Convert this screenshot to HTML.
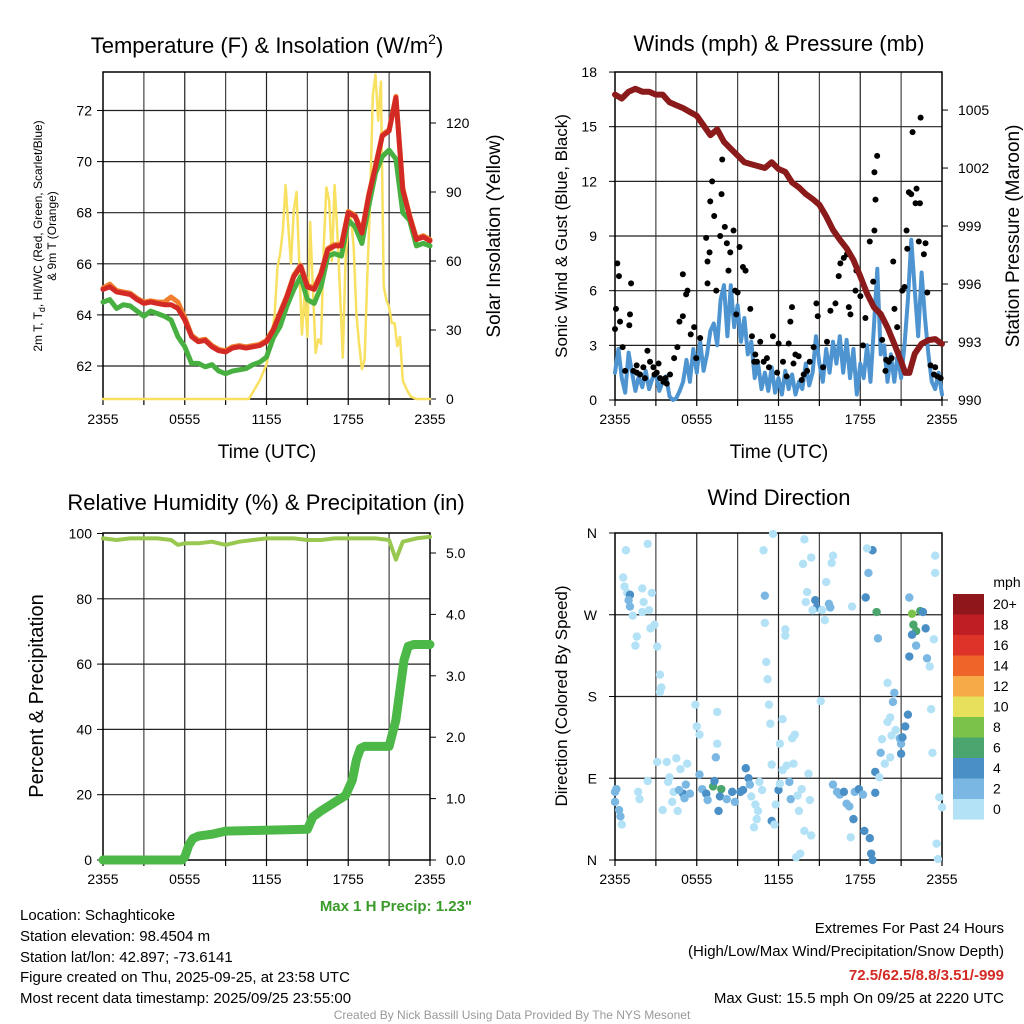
<!DOCTYPE html>
<html><head><meta charset="utf-8"><style>
body{margin:0;background:#fff;}
svg{display:block;font-family:"Liberation Sans",sans-serif;}
</style></head><body>
<svg id="c" width="1024" height="1024" viewBox="0 0 1024 1024">
<rect width="1024" height="1024" fill="#fff"/>
<g id="static">
<text x="267" y="53" font-size="22" text-anchor="middle">Temperature (F) &amp; Insolation (W/m<tspan font-size="14" dy="-9">2</tspan><tspan dy="9">)</tspan></text>
<text x="779" y="51" font-size="22" text-anchor="middle">Winds (mph) &amp; Pressure (mb)</text>
<text x="266" y="510" font-size="22" text-anchor="middle">Relative Humidity (%) &amp; Precipitation (in)</text>
<text x="779" y="505" font-size="22" text-anchor="middle">Wind Direction</text>
<text x="267" y="458" font-size="19" text-anchor="middle">Time (UTC)</text>
<text x="779" y="458" font-size="19" text-anchor="middle">Time (UTC)</text>
<text transform="translate(42,236) rotate(-90)" font-size="12" text-anchor="middle">2m T, T<tspan font-size="9" dy="3">d</tspan><tspan dy="-3">, HI/WC (Red, Green, Scarlet/Blue)</tspan></text>
<text transform="translate(56,236) rotate(-90)" font-size="12" text-anchor="middle">&amp; 9m T (Orange)</text>
<text transform="translate(500,236) rotate(-90)" font-size="19" text-anchor="middle">Solar Insolation (Yellow)</text>
<text transform="translate(567,236) rotate(-90)" font-size="17" text-anchor="middle">Sonic Wind &amp; Gust (Blue, Black)</text>
<text transform="translate(1019,236) rotate(-90)" font-size="19" text-anchor="middle">Station Pressure (Maroon)</text>
<text transform="translate(43,696) rotate(-90)" font-size="20" text-anchor="middle">Percent &amp; Precipitation</text>
<text transform="translate(567,696) rotate(-90)" font-size="17" text-anchor="middle">Direction (Colored By Speed)</text>
<text x="472" y="911" font-size="15" font-weight="bold" fill="#3a9a2a" text-anchor="end">Max 1 H Precip: 1.23"</text>
<g font-size="15">
<text x="20" y="920">Location: Schaghticoke</text>
<text x="20" y="941">Station elevation: 98.4504 m</text>
<text x="20" y="962">Station lat/lon: 42.897; -73.6141</text>
<text x="20" y="982">Figure created on Thu, 2025-09-25, at 23:58 UTC</text>
<text x="20" y="1003">Most recent data timestamp: 2025/09/25 23:55:00</text>
</g>
<g font-size="15" text-anchor="end">
<text x="1004" y="933">Extremes For Past 24 Hours</text>
<text x="1004" y="956">(High/Low/Max Wind/Precipitation/Snow Depth)</text>
<text x="1004" y="980" font-weight="bold" fill="#d42a25">72.5/62.5/8.8/3.51/-999</text>
<text x="1004" y="1003">Max Gust: 15.5 mph On 09/25 at 2220 UTC</text>
</g>
<text x="512" y="1019" font-size="12" fill="#999" text-anchor="middle">Created By Nick Bassill Using Data Provided By The NYS Mesonet</text>
<text x="1007" y="587" font-size="14" text-anchor="middle">mph</text>
</g>
</svg>
<script>
// ---------- data ----------
const xTickLabels=["2355","0555","1155","1755","2355"];
const tempTicks=[62,64,66,68,70,72];
const solarTicks=[0,30,60,90,120];
const windTicks=[0,3,6,9,12,15,18];
const presTicks=[990,993,996,999,1002,1005];
const rhTicks=[0,20,40,60,80,100];
const prTicks=["0.0","1.0","2.0","3.0","4.0","5.0"];
const dirTickLabels=["N","E","S","W","N"];
const speedLabels=["0","2","4","6","8","10","12","14","16","18","20+"];
const speedColors=["#b3e2f7","#7ab8e3","#4a8fc6","#4aa56e","#7bc24a","#e6e05a","#f6aa48","#ef6429","#dd3328","#be1e24","#8f161a"];

const tempRed=[65.0,65.1,64.9,64.85,64.8,64.6,64.45,64.5,64.45,64.4,64.4,64.25,63.8,63.15,62.95,63.0,62.75,62.6,62.55,62.7,62.75,62.7,62.75,62.8,62.95,63.4,64.05,64.7,65.5,65.9,65.1,65.0,65.6,66.55,66.7,66.7,68.0,67.85,67.2,68.65,69.8,71.0,71.2,72.5,68.9,67.85,66.95,67.05,66.9];
const tempOrange=[65.05,65.2,64.95,64.9,64.85,64.65,64.5,64.55,64.5,64.5,64.7,64.5,63.9,63.2,63.0,63.05,62.8,62.65,62.6,62.75,62.8,62.75,62.8,62.85,63.0,63.45,64.1,64.75,65.55,65.95,65.15,65.05,65.65,66.6,66.75,66.75,68.05,67.9,67.25,68.7,69.85,71.05,71.25,72.55,68.95,67.9,67.0,67.1,66.95];
const tempGreen=[64.5,64.6,64.25,64.4,64.35,64.15,63.95,64.15,64.05,63.95,63.8,63.15,62.75,62.1,62.1,61.97,62.05,61.8,61.7,61.8,61.85,61.9,62.05,62.15,62.35,63.1,63.55,64.35,65.0,65.5,64.6,64.45,65.1,66.3,66.4,66.3,67.7,67.45,66.8,68.25,69.55,70.2,70.45,70.1,68.0,67.7,66.7,66.8,66.7];
const solarTimes=[0,10.7,11,11.5,12,12.3,12.6,12.8,13,13.2,13.4,13.6,13.8,14,14.2,14.4,14.6,14.8,15,15.2,15.4,15.6,15.8,16,16.2,16.4,16.6,16.8,17,17.2,17.4,17.6,17.8,18,18.2,18.4,18.6,18.8,19,19.2,19.4,19.6,19.8,20,20.2,20.4,20.6,20.8,21,21.2,21.4,21.6,21.8,22,22.3,22.6,23,24];
const solarVals=[0,0,3,8,15,24,37,57,63,73,93,75,59,82,90,60,28,46,27,77,49,20,26,24,66,92,86,60,93,72,46,18,60,77,79,66,37,24,13,17,53,86,132,141,121,138,49,43,40,33,33,23,27,8,4,1,0,0];

const windSpeed=[1.5,2.8,1.2,0.4,2.6,1.5,0.5,1.3,0.7,1.6,0.6,1.2,1.5,0.5,1.0,1.3,0.2,0.0,0.1,0.5,1.0,2.2,1.0,2.8,1.5,3.2,1.6,2.5,3.8,4.2,3.0,5.5,6.3,3.5,6.3,4.0,5.2,3.2,4.5,2.5,3.2,1.2,2.0,0.6,1.5,0.5,1.8,0.4,1.2,0.3,1.6,0.6,1.4,0.3,1.0,0.6,2.0,0.8,1.5,3.5,2.0,1.0,2.8,1.5,3.2,2.0,3.5,1.5,3.3,1.2,2.8,0.3,2.0,1.2,3.0,1.0,4.0,7.2,2.5,3.0,1.0,2.5,1.0,2.5,1.2,3.0,5.5,8.8,6.0,3.5,7.0,4.5,2.5,1.0,0.6,1.5,0.3];
const gustTimes=[0.0,0.07,0.17,0.29,0.37,0.56,0.74,1.10,1.05,1.18,1.35,1.59,1.84,2.08,2.38,2.57,2.82,3.06,3.31,3.55,3.80,4.04,4.34,4.58,4.73,4.98,4.98,5.22,5.32,5.56,5.81,5.96,6.25,6.69,6.79,6.79,6.94,6.99,7.13,7.28,7.43,7.72,7.82,7.87,8.06,8.21,8.33,8.46,8.70,8.82,8.90,9.00,9.14,9.39,9.58,9.93,10.05,10.22,10.42,10.66,10.91,11.15,11.59,12.01,12.33,12.75,12.87,12.99,13.24,13.48,13.85,14.29,14.58,14.78,14.88,15.27,15.56,15.81,16.18,16.42,16.54,16.79,17.03,17.16,17.28,17.65,17.72,18.01,18.38,18.70,18.95,19.04,19.12,19.04,19.24,19.49,19.61,19.85,20.10,20.42,20.51,20.71,21.08,21.25,21.40,21.45,21.57,21.74,21.84,22.06,22.13,22.30,22.38,22.43,22.67,22.79,22.92,23.16,23.41,23.65,23.90,1.6,2.2,2.9,3.2,3.7,10.3,11.3,11.9,12.6,13.1,13.7,14.1,18.2,19.9,20.3,23.5];
const gustVals=[3.9,5.0,7.5,6.8,4.3,2.9,1.6,4.7,4.1,6.4,1.6,1.9,1.4,1.8,2.7,2.1,1.8,1.5,1.2,1.0,0.9,1.4,2.3,2.9,4.3,4.6,6.9,5.8,6.0,3.6,4.0,2.3,3.4,8.9,7.6,6.4,8.1,10.9,12.0,10.1,6.0,9.0,11.3,13.2,9.5,8.6,7.1,8.1,9.3,6.0,4.7,5.9,8.4,7.3,7.1,5.0,3.5,2.1,2.1,3.2,2.1,2.3,3.5,3.1,2.1,3.1,4.3,5.1,2.5,2.4,1.4,2.1,2.9,5.3,4.6,1.8,3.2,4.9,5.3,6.8,7.5,7.8,8.0,5.1,4.7,6.0,7.1,5.7,4.5,8.7,6.5,9.3,11.0,12.5,13.4,4.7,3.3,1.6,2.1,7.6,5.0,4.0,6.0,6.2,9.3,8.3,11.4,11.3,14.7,10.8,11.6,8.7,10.8,15.5,8.0,8.6,5.9,1.9,1.4,1.3,1.2,1.5,1.2,1.4,2.0,1.2,2.5,1.8,1.5,1.3,2.0,1.1,1.6,3.0,2.2,2.3,1.8];
const pressure=[1005.8,1005.6,1005.95,1006.1,1005.95,1005.95,1005.8,1005.8,1005.4,1005.25,1005.1,1004.9,1004.7,1004.2,1003.7,1004.0,1003.35,1003.0,1002.65,1002.3,1002.2,1002.1,1002.0,1002.3,1001.95,1001.8,1001.25,1001.0,1000.65,1000.4,1000.1,999.5,998.8,998.3,997.85,997.25,996.4,995.5,994.8,994.45,993.75,992.9,992.0,991.4,991.4,992.4,992.9,993.1,993.15,992.9];
const pressureTimes=[0,0.5,1,1.5,2,2.5,3,3.5,4,4.5,5,5.5,6,6.5,7,7.5,8,8.5,9,9.5,10,10.5,11,11.5,12,12.5,13,13.5,14,14.5,15,15.5,16,16.5,17,17.5,18,18.5,19,19.5,20,20.5,21,21.3,21.6,22,22.5,23,23.5,24];

const rhTimes=[0,1,2,3,4,5,5.5,6,7,8,9,10,11,12,13,14,15,16,17,18,19,20,21,21.5,22,23,24];
const rhVals=[98.5,98,98.5,98.5,98.5,98,96.5,97,97,97.5,96.5,97.5,98,98.5,98.5,98.5,98,98,98.5,98.5,98.5,98.5,98,92,97.5,98.5,99];
const precipTimes=[0,5.8,6.0,6.3,6.6,7.0,8.0,9.0,11.0,15.0,15.4,16.0,17.0,17.8,18.3,18.6,18.9,19.2,21.0,21.5,21.8,22.1,22.4,22.8,24];
const precipVals=[0,0,0.05,0.24,0.35,0.39,0.42,0.47,0.48,0.50,0.70,0.80,0.94,1.05,1.3,1.63,1.82,1.85,1.85,2.28,2.77,3.26,3.48,3.51,3.51];

const dirTimes=[0.8,2.4,0.6,0.7,0.9,1.1,1.0,1.1,2.0,2.1,2.7,1.3,2.0,2.5,2.9,2.6,1.6,1.5,3.1,3.3,3.4,3.3,5.9,7.5,6.0,6.2,7.5,7.4,3.1,3.8,4.5,4.8,5.3,2.4,4.0,3.9,6.2,0.1,0.0,0.0,0.3,0.4,0.5,1.7,1.8,3.5,4.2,4.6,4.3,5.0,4.7,5.2,5.1,5.5,6.4,6.7,6.8,7.2,7.3,7.8,7.7,7.6,8.2,8.6,8.8,9.2,9.4,9.6,9.8,9.9,10.0,10.3,10.5,10.6,10.8,10.4,10.2,11.5,11.7,11.8,12.0,12.1,12.3,12.6,13.1,11.5,12.1,12.3,13.0,13.2,11.4,11.3,11.2,11.1,12.5,12.5,11.0,11.0,10.9,11.6,13.9,14.4,13.8,14.1,14.0,14.7,14.8,14.5,15.2,15.4,15.7,15.8,15.5,16.0,15.9,17.4,15.1,14.2,12.8,12.9,13.4,13.7,14.3,13.5,13.9,14.4,13.6,13.3,16.0,16.3,16.5,16.8,17.0,17.2,17.6,17.9,18.2,17.5,18.3,18.7,17.3,18.8,18.9,19.1,19.1,19.4,19.5,19.8,20.2,19.6,20.0,20.2,20.6,20.3,20.9,21.0,21.1,21.3,21.5,21.0,20.4,20.5,20.0,18.4,18.9,18.5,18.6,19.2,19.3,21.6,21.8,22.4,22.6,21.9,22.1,21.8,22.1,21.6,22.9,22.8,23.4,23.5,23.5,23.2,23.3,23.1,23.8,24.0,23.6,23.7];
const dirDegs=[341,348,311,301,294,292,286,279,299,284,294,269,273,275,259,255,246,236,235,204,190,185,171,163,147,138,128,113,108,108,112,100,106,87,91,86,94,78,75,64,55,48,39,75,67,55,64,54,75,73,77,83,68,73,78,73,66,81,87,78,70,54,67,75,64,75,77,101,90,83,70,61,54,86,77,45,36,43,39,61,77,84,99,104,106,105,128,155,134,138,150,171,199,218,247,254,261,291,341,359,353,333,326,295,284,286,278,275,275,264,282,278,306,335,327,279,175,95,86,67,71,78,66,54,32,27,7,3,83,75,72,75,62,59,75,78,72,45,32,24,25,7,0,74,97,91,118,106,113,133,152,157,143,137,134,128,135,147,160,117,174,184,195,289,341,343,316,273,244,289,271,274,273,259,252,248,236,224,222,255,243,335,316,166,118,213,69,58,18,1];
const dirSpeeds=[1,1,1,1,1,5,3,3,1,1,1,1,1,1,1,1,1,1,1,1,1,1,1,1,1,1,1,3,1,1,1,1,1,1,1,1,3,3,3,3,3,3,1,1,1,1,1,1,1,5,3,3,3,3,3,5,3,7,5,7,5,5,3,5,3,5,5,5,5,3,1,1,1,1,1,1,1,5,1,1,5,1,1,1,1,1,1,1,1,1,1,1,1,1,1,1,1,3,1,1,1,1,1,1,1,5,5,1,1,1,3,3,1,1,1,1,1,1,3,3,1,1,1,1,1,1,1,1,3,3,3,5,3,3,3,5,3,5,5,5,1,5,5,5,5,1,3,1,1,1,1,1,1,1,3,3,5,5,5,5,3,3,1,5,5,1,3,7,3,3,9,7,5,7,7,5,3,5,3,5,1,1,1,1,1,1,1,1,1,1];

// ---------- helpers ----------
const NS="http://www.w3.org/2000/svg";
const svg=document.getElementById('c');
function mk(tag,attrs,parent){const e=document.createElementNS(NS,tag);for(const k in attrs)e.setAttribute(k,attrs[k]);(parent||svg).appendChild(e);return e;}
function tx(x,y,s,anchor,size){const e=mk('text',{x:x,y:y,'font-size':size||14,'text-anchor':anchor||'middle'});e.textContent=s;return e;}
function poly(xs,ys,color,w){let d='';for(let i=0;i<xs.length;i++)d+=(i?'L':'M')+xs[i].toFixed(1)+','+ys[i].toFixed(1);return mk('path',{d:d,fill:'none',stroke:color,'stroke-width':w,'stroke-linejoin':'round','stroke-linecap':'round'});}

function frame(x0,x1,y0,y1,hLines,nameBase){
  const g=mk('g',{});
  
  
  for(let i=1;i<8;i++){const x=x0+(x1-x0)*i/8;mk('line',{x1:x,y1:y0,x2:x,y2:y1,stroke:(i%2?'#444':'#222'),'stroke-width':1.2},g);}
  hLines.forEach(y=>mk('line',{x1:x0,y1:y,x2:x1,y2:y,stroke:'#222','stroke-width':1.2},g));
  const r=mk('rect',{x:x0,y:y0,width:x1-x0,height:y1-y0,fill:'none',stroke:'#000','stroke-width':1.5});
  
  
  for(let i=0;i<=8;i++){const x=x0+(x1-x0)*i/8;mk('line',{x1:x,y1:y1,x2:x,y2:y1+6,stroke:'#000','stroke-width':1.2});}
}
function xLabels(x0,x1,y,nameBase){
  xTickLabels.forEach((s,i)=>{const t=tx(x0+(x1-x0)*i/4,y,s);
    
    });
}

// ---------- panel 1 ----------
const A={x0:103,x1:430,y0:72,y1:399};
const tX=t=>A.x0+t/24*(A.x1-A.x0);
const tempY=v=>366-(v-62)*25.55;
const solY=v=>399-v*2.3;
frame(A.x0,A.x1,A.y0,A.y1,tempTicks.map(tempY),'temperature');
xLabels(A.x0,A.x1,424,'temperature');
tempTicks.forEach(v=>{const y=tempY(v);mk('line',{x1:A.x0-6,y1:y,x2:A.x0,y2:y,stroke:'#000'});const t=tx(92,y+5,String(v),'end');
  
  });
solarTicks.forEach(v=>{const y=solY(v);mk('line',{x1:A.x1,y1:y,x2:A.x1+6,y2:y,stroke:'#000'});const t=tx(446,y+5,String(v),'start');
  
  });
const tT=tempRed.map((_,i)=>i*0.5);
let p;
p=poly(solarTimes.map(tX),solarVals.map(solY),'#f8e060',2.5);


p=poly(tT.map(tX),tempOrange.map(tempY),'#f08030',5);


p=poly(tT.map(tX),tempGreen.map(tempY),'#48b040',5);


p=poly(tT.map(tX),tempRed.map(tempY),'#d42a25',5);



// ---------- panel 2 ----------
const B={x0:615,x1:942,y0:72,y1:400};
const wX=t=>B.x0+t/24*(B.x1-B.x0);
const wY=v=>B.y1-v*18.22;
const pY=v=>B.y1-(v-990)*19.33;
frame(B.x0,B.x1,B.y0,B.y1,[3,6,9,12,15].map(wY),'winds');
xLabels(B.x0,B.x1,424,'winds');
windTicks.forEach(v=>{const y=wY(v);mk('line',{x1:B.x0-6,y1:y,x2:B.x0,y2:y,stroke:'#000'});const t=tx(597,y+5,String(v),'end');
  
  });
presTicks.forEach(v=>{const y=pY(v);mk('line',{x1:B.x1,y1:y,x2:B.x1+6,y2:y,stroke:'#000'});const t=tx(958,y+5,String(v),'start');
  
  });
p=poly(windSpeed.map((_,i)=>wX(i*0.25)),windSpeed.map(wY),'#4d94d0',4);


gustTimes.forEach((t,i)=>{const c=mk('circle',{cx:wX(t),cy:wY(gustVals[i]),r:3,fill:'#000'});
  
  });
p=poly(pressureTimes.map(wX),pressure.map(pY),'#8b1a1a',6);



// ---------- panel 3 ----------
const C={x0:103,x1:430,y0:533,y1:860};
const cX=t=>C.x0+t/24*(C.x1-C.x0);
const rhY=v=>C.y1-v*3.265;
const prY=v=>C.y1-v*61.4;
frame(C.x0,C.x1,C.y0,C.y1,[20,40,60,80].map(rhY),'humidity');
xLabels(C.x0,C.x1,884,'humidity');
rhTicks.forEach(v=>{const y=rhY(v);mk('line',{x1:C.x0-6,y1:y,x2:C.x0,y2:y,stroke:'#000'});const t=tx(92,y+5,String(v),'end');
  
  });
prTicks.forEach(s=>{const y=prY(parseFloat(s));mk('line',{x1:C.x1,y1:y,x2:C.x1+6,y2:y,stroke:'#000'});const t=tx(446,y+5,s,'start');
  
  });
p=poly(rhTimes.map(cX),rhVals.map(rhY),'#98c850',4);


p=poly(precipTimes.map(cX),precipVals.map(prY),'#4cb848',9);



// ---------- panel 4 ----------
const D={x0:615,x1:942,y0:533,y1:860};
const dX=t=>D.x0+t/24*(D.x1-D.x0);
const dY=v=>D.y1-v/360*(D.y1-D.y0);
frame(D.x0,D.x1,D.y0,D.y1,[90,180,270].map(dY),'direction');
xLabels(D.x0,D.x1,884,'direction');
dirTickLabels.forEach((s,i)=>{const y=dY(i*90);mk('line',{x1:D.x0-6,y1:y,x2:D.x0,y2:y,stroke:'#000'});const t=tx(597,y+5,s,'end');
  
  });
const spColor=s=>speedColors[Math.min(10,Math.floor(s/2))];
dirTimes.forEach((t,i)=>{const c=mk('circle',{cx:dX(t),cy:dY(dirDegs[i]),r:4.2,fill:spColor(dirSpeeds[i])});
  
  });
// colorbar
speedLabels.forEach((s,i)=>{const k=10-i;const y=594+i*20.5;
  const r=mk('rect',{x:953,y:y,width:31,height:20.6,fill:speedColors[k]});
  
  
  const t=tx(993,y+15,speedLabels[k],'start');
  
  });
</script>
</body></html>
